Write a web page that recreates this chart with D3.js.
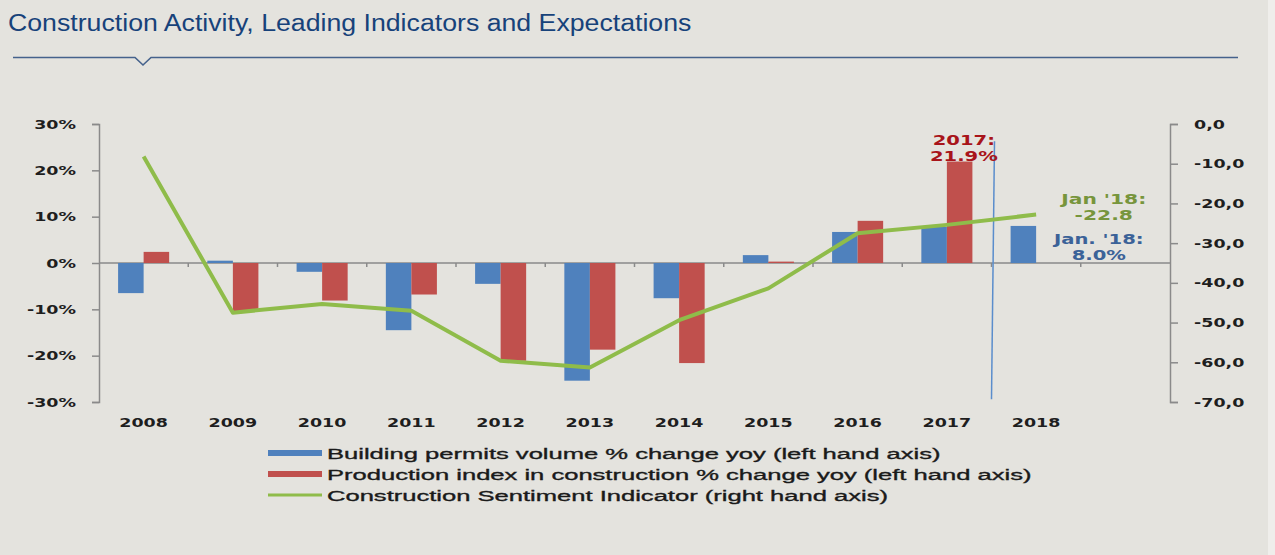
<!DOCTYPE html>
<html>
<head>
<meta charset="utf-8">
<script src="https://cdn.jsdelivr.net/npm/d3@7"></script>
<style>
  body { margin: 0; background: #e4e3de; }
  svg { display: block; }
</style>
</head>
<body>
<div class="chart"></div>
<script>
const width = 1275;
const height = 555;
const margin = { top: 124, right: 105, bottom: 153, left: 99 };

// values
const years = ["2008", "2009", "2010", "2011", "2012", "2013", "2014", "2015", "2016", "2017", "2018"];
const permits = [-6.5, 0.5, -1.9, -14.5, -4.5, -25.4, -7.6, 1.7, 6.7, 7.8, 8.0];
const production = [2.4, -10.4, -8.1, -6.8, -21.1, -18.7, -21.6, 0.3, 9.1, 21.9, null];
const sentiment = [-8.2, -47.5, -45.3, -47.0, -59.6, -61.3, -49.4, -41.4, -27.5, -25.4, -22.8];
const leftTicks = [30, 20, 10, 0, -10, -20, -30];
const rightTicks = [0, -10, -20, -30, -40, -50, -60, -70];
const seriesNames = ["Building permits volume % change yoy (left hand axis)",
    "Production index in construction % change yoy (left hand axis)",
    "Construction Sentiment Indicator (right hand axis)"];

const blue = "#4f81bd";
const red = "#c0504d";
const green = "#8fbc4a";
const axisColor = "#8a8a8a";
const sx = 1.4; // the original labels are stretched sideways

const svg = d3.select(".chart")
    .append("svg")
    .attr("width", width)
    .attr("height", height)

svg.append("rect")
    .attr("x", width - 7).attr("y", 0)
    .attr("width", 7).attr("height", height)
    .attr("fill", "#efeeeb")

// title + rule with the little notch
svg.append("text")
    .text("Construction Activity, Leading Indicators and Expectations")
    .attr("transform", `translate(${8}, ${31}) scale(1.09, 1)`)
    .attr("font-family", "Liberation Sans, Arial, sans-serif")
    .attr("font-size", "24.5")
    .attr("fill", "#17427a")

svg.append("path")
    .attr("d", "M13,57.5H135L143,65L151,57.5H1238")
    .attr("fill", "none")
    .attr("stroke", "#45628c")
    .attr("stroke-width", 1.6)

const x = d3.scaleBand()
    .domain(years.concat([""]))
    .range([margin.left, width - margin.right])

const xInner = d3.scaleBand()
    .domain(["permits", "production"])
    .range([0, x.bandwidth() * 0.572])

const innerOffset = (x.bandwidth() - xInner.range()[1]) / 2

const y = d3.scaleLinear()
    .domain([-30, 30])
    .range([height - margin.bottom, margin.top])

const yR = d3.scaleLinear()
    .domain([-70, 0])
    .range([height - margin.bottom, margin.top])

function wideText(g, px, py, txt, anchor, s = sx) {
    return g.append("text")
        .attr("transform", `translate(${px}, ${py}) scale(${s}, 1)`)
        .attr("text-anchor", anchor)
        .text(txt)
}

function fmtNum(d, digits) {
    return (d < 0 ? "-" : "") + Math.abs(d).toFixed(digits).replace(".", ",")
}

// left axis
const yAxis = d3.axisLeft(y).tickValues(leftTicks).tickSize(7).tickFormat("")
svg.append("g")
    .attr("class", "yAxis")
    .attr("transform", `translate(${margin.left}, 0)`)
    .call(yAxis)
    .call(g => g.selectAll("path, line").attr("stroke", axisColor).attr("stroke-width", 1.5))

const leftLabels = svg.append("g")
    .attr("font-family", "DejaVu Sans, Verdana, sans-serif")
    .attr("font-weight", "bold")
    .attr("font-size", "12.5")
    .attr("fill", "#1e1e1e")
leftTicks.forEach(t => {
    wideText(leftLabels, margin.left - 23, y(t) + 4.5, (t < 0 ? "-" : "") + Math.abs(t) + "%", "end")
})

// right axis
const yAxisR = d3.axisRight(yR).tickValues(rightTicks).tickSize(8).tickFormat("")
svg.append("g")
    .attr("class", "yAxisR")
    .attr("transform", `translate(${width - margin.right}, 0)`)
    .call(yAxisR)
    .call(g => g.selectAll("path, line").attr("stroke", axisColor).attr("stroke-width", 1.5))

const rightLabels = svg.append("g")
    .attr("font-family", "DejaVu Sans, Verdana, sans-serif")
    .attr("font-weight", "bold")
    .attr("font-size", "12.5")
    .attr("fill", "#1e1e1e")
rightTicks.forEach(t => {
    wideText(rightLabels, width - margin.right + 24, yR(t) + 4.5, fmtNum(t, 1), "start")
})

// zero line with ticks at band edges
svg.append("line")
    .attr("x1", margin.left).attr("x2", width - margin.right)
    .attr("y1", y(0)).attr("y2", y(0))
    .attr("stroke", axisColor)
    .attr("stroke-width", 1.5)

svg.selectAll("line.xtick")
    .data(x.domain().slice(1))
    .join("line")
    .attr("class", "xtick")
    .attr("x1", d => x(d)).attr("x2", d => x(d))
    .attr("y1", y(0)).attr("y2", y(0) + 4)
    .attr("stroke", axisColor)
    .attr("stroke-width", 1.5)

const xLabels = svg.append("g")
    .attr("font-family", "DejaVu Sans, Verdana, sans-serif")
    .attr("font-weight", "bold")
    .attr("font-size", "12.5")
    .attr("fill", "#1e1e1e")
years.forEach(d => {
    wideText(xLabels, x(d) + x.bandwidth() / 2, height - margin.bottom + 25, d, "middle")
})

// bars
const barData = years.flatMap((d, i) => [
    { year: d, key: "permits", value: permits[i] },
    { year: d, key: "production", value: production[i] }
]).filter(d => d.value !== null)

svg.selectAll("rect.bar")
    .data(barData)
    .join("rect")
    .attr("class", "bar")
    .attr("x", d => x(d.year) + innerOffset + xInner(d.key))
    .attr("width", xInner.bandwidth())
    .attr("y", d => y(Math.max(0, d.value)))
    .attr("height", d => Math.abs(y(d.value) - y(0)))
    .attr("fill", d => d.key === "permits" ? blue : red)

// thin marker line between 2017 and 2018
svg.append("line")
    .attr("x1", x("2018") + 3).attr("y1", y(26.3))
    .attr("x2", x("2018")).attr("y2", y(-29.4))
    .attr("stroke", "#5a8dcc")
    .attr("stroke-width", 1.5)

// sentiment line
const line = d3.line()
    .x((d, i) => x(years[i]) + x.bandwidth() / 2)
    .y(d => yR(d))

svg.append("path")
    .datum(sentiment)
    .attr("fill", "none")
    .attr("stroke", green)
    .attr("stroke-width", 4)
    .attr("stroke-linejoin", "round")
    .attr("d", line)

// annotations
const notes = svg.append("g")
    .attr("font-family", "DejaVu Sans, Verdana, sans-serif")
    .attr("font-weight", "bold")
    .attr("font-size", "13.5")

const c17 = x("2017") + x.bandwidth() / 2 + 17
wideText(notes, c17, 145, "2017:", "middle", 1.45).attr("fill", "#a8141a")
wideText(notes, c17, 161, "21.9%", "middle", 1.45).attr("fill", "#a8141a")

const c18 = x("2018") + x.bandwidth() + 23
wideText(notes, c18, 204, "Jan '18:", "middle", 1.5).attr("fill", "#77953c")
wideText(notes, c18, 220, "-22.8", "middle", 1.5).attr("fill", "#77953c")
wideText(notes, c18 - 5, 244, "Jan. '18:", "middle", 1.45).attr("fill", "#3b6298")
wideText(notes, c18 - 5, 260, "8.0%", "middle", 1.45).attr("fill", "#3b6298")

// legend
const legend = svg.append("g")
    .attr("font-family", "Liberation Sans, Arial, sans-serif")
    .attr("font-size", "15.5")
    .attr("fill", "#1a1a1a")
    .attr("stroke", "#1a1a1a")
    .attr("stroke-width", 0.35)

const legendColors = [blue, red, green]
seriesNames.forEach((name, i) => {
    const ly = 453 + i * 21
    legend.append("rect")
        .attr("x", 268)
        .attr("y", i < 2 ? ly - 3 : ly - 1.5)
        .attr("width", 54)
        .attr("height", i < 2 ? 6 : 3)
        .attr("fill", legendColors[i])
        .attr("stroke", "none")
    legend.append("text")
        .attr("transform", `translate(${327}, ${ly + 5.5}) scale(1.65, 1)`)
        .text(name)
})
</script>
</body>
</html>
